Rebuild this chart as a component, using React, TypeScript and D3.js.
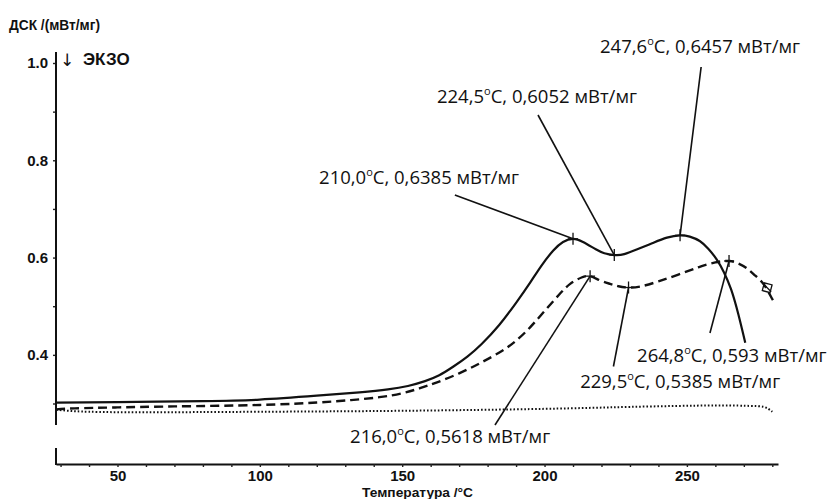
import React, { useEffect, useRef } from "react";
import * as d3 from "d3";

// DSC curves, temperature (°C) / value (mW/mg)
const solidT = [28.5, 50, 80, 100, 120, 135, 145, 152, 158, 163, 168, 173, 178, 184, 190, 195, 199, 203, 206.5, 210, 213.5, 218, 221, 224.5, 228, 233, 238, 243, 247.6, 251, 254.5, 257.5, 260.5, 263, 265.5, 268, 270.5];
const solidV = [0.302, 0.303, 0.305, 0.308, 0.316, 0.323, 0.329, 0.336, 0.346, 0.358, 0.376, 0.397, 0.423, 0.461, 0.507, 0.549, 0.584, 0.614, 0.632, 0.6385, 0.632, 0.617, 0.609, 0.6052, 0.607, 0.618, 0.63, 0.641, 0.6457, 0.643, 0.634, 0.618, 0.596, 0.57, 0.535, 0.485, 0.425];

const dashedT = [28.5, 35, 50, 70, 100, 120, 132, 142, 150, 156, 162, 170, 178, 185, 190, 195, 200, 205, 209, 213, 216, 219.5, 223, 226, 229.5, 234, 240, 247, 254, 260, 264.8, 268, 271, 274, 277, 279.5, 281];
const dashedV = [0.288, 0.29, 0.292, 0.294, 0.297, 0.302, 0.307, 0.313, 0.321, 0.331, 0.343, 0.362, 0.385, 0.408, 0.429, 0.457, 0.49, 0.523, 0.546, 0.559, 0.5618, 0.553, 0.546, 0.541, 0.5385, 0.541, 0.551, 0.565, 0.58, 0.59, 0.593, 0.588, 0.578, 0.563, 0.545, 0.52, 0.505];

const dottedT = [28.5, 33, 40, 60, 100, 150, 200, 230, 260, 272, 277, 280];
const dottedV = [0.287, 0.285, 0.283, 0.282, 0.283, 0.285, 0.289, 0.293, 0.296, 0.295, 0.293, 0.283];

// annotated points
const peakT = [210.0, 224.5, 247.6, 216.0, 229.5, 264.8];
const peakV = [0.6385, 0.6052, 0.6457, 0.5618, 0.5385, 0.593];

// where each label sits and where its leader starts (data units)
const labelT = [120.8, 162.2, 219.5, 131.7, 212.5, 232.5];
const labelV = [0.7513, 0.9178, 1.0206, 0.2189, 0.332, 0.3854];
const leaderT = [168.5, 197.7, 255.0, 182.6, 224.2, 258.1];
const leaderV = [0.7287, 0.8931, 0.9918, 0.2559, 0.3761, 0.445];

const xTicks = d3.range(30, 281, 10);
const xTickLabels = [50, 100, 150, 200, 250];
const yTicks = [0.3, 0.4, 0.5, 0.6, 0.7, 0.8, 0.9, 1.0];
const yTickLabels = [0.4, 0.6, 0.8, 1.0];

const endMarkT = 278.2;
const endMarkV = 0.538;

const W = 831;
const H = 499;

const comma = (s: string) => s.replace(".", ",");

const App = () => {
  const ref = useRef<SVGSVGElement | null>(null);

  useEffect(() => {
    const svg = d3.select(ref.current);
    svg.selectAll("*").remove();

    const x = d3.scaleLinear().domain([28.4, 282]).range([56, 778]);
    const y = d3.scaleLinear().domain([0.3, 1.0]).range([403.5, 63]);

    svg.append("rect").attr("width", W).attr("height", H).attr("fill", "#fff");

    // x axis
    const gx = svg.append("g").attr("transform", "translate(0,464)")
      .call(d3.axisBottom(x).tickValues(xTicks).tickSize(3).tickPadding(3).tickSizeOuter(0)
        .tickFormat((d) => (xTickLabels.includes(+d) ? String(d) : "")));
    gx.select(".domain").attr("stroke", "#111").attr("stroke-width", 2);
    gx.selectAll(".tick line").attr("stroke", "#222").attr("stroke-width", 1.4);
    gx.selectAll("text").attr("font-family", "Liberation Sans, Arial, sans-serif")
      .attr("font-size", 15).attr("font-weight", "bold").attr("fill", "#111");

    // y axis
    const gy = svg.append("g").attr("transform", "translate(56,0)")
      .call(d3.axisLeft(y).tickValues(yTicks).tickSize(3).tickPadding(5).tickSizeOuter(0)
        .tickFormat((d) => (yTickLabels.some((v) => Math.abs(v - +d) < 1e-6) ? d3.format(".1f")(+d) : "")));
    gy.select(".domain").remove();
    gy.selectAll(".tick line").attr("stroke", "#222").attr("stroke-width", 1.4);
    gy.selectAll("text").attr("font-family", "Liberation Sans, Arial, sans-serif")
      .attr("font-size", 15).attr("font-weight", "bold").attr("fill", "#111");

    svg.append("line").attr("x1", 56).attr("x2", 56).attr("y1", 52).attr("y2", 425)
      .attr("stroke", "#111").attr("stroke-width", 2);
    svg.append("line").attr("x1", 56).attr("x2", 56).attr("y1", 448).attr("y2", 465)
      .attr("stroke", "#111").attr("stroke-width", 2);

    // curves
    const line = d3.line<[number, number]>()
      .x((d) => x(d[0])).y((d) => y(d[1]))
      .curve(d3.curveNatural);

    const series = [
      { t: dottedT, v: dottedV, dash: "1.6,2", w: 2 },
      { t: dashedT, v: dashedV, dash: "9,5", w: 2.4 },
      { t: solidT, v: solidV, dash: null, w: 2.2 },
    ];
    series.forEach((s) => {
      const pts = s.t.map((t, i) => [t, s.v[i]] as [number, number]);
      svg.append("path").attr("d", line(pts)).attr("fill", "none")
        .attr("stroke", "#111").attr("stroke-width", s.w)
        .attr("stroke-dasharray", s.dash);
    });

    // end marker on dashed curve
    const ex = x(endMarkT);
    const ey = y(endMarkV);
    svg.append("rect").attr("x", ex - 4).attr("y", ey - 4).attr("width", 8).attr("height", 8)
      .attr("fill", "none").attr("stroke", "#111").attr("stroke-width", 1.3)
      .attr("transform", `rotate(15,${ex},${ey})`);
    svg.append("line").attr("x1", ex - 4).attr("y1", ey - 4).attr("x2", ex + 4).attr("y2", ey + 4)
      .attr("stroke", "#111").attr("stroke-width", 1.3);

    // annotations
    peakT.forEach((t, i) => {
      const px = x(t);
      const py = y(peakV[i]);
      svg.append("line").attr("x1", x(leaderT[i])).attr("y1", y(leaderV[i]))
        .attr("x2", px).attr("y2", py).attr("stroke", "#111").attr("stroke-width", 1.6);
      svg.append("line").attr("x1", px).attr("x2", px).attr("y1", py - 6).attr("y2", py + 6)
        .attr("stroke", "#111").attr("stroke-width", 1.3);
      svg.append("line").attr("x1", px - 5).attr("x2", px + 5).attr("y1", py).attr("y2", py)
        .attr("stroke", "#111").attr("stroke-width", 1.3);

      const txt = svg.append("text").attr("x", x(labelT[i])).attr("y", y(labelV[i]))
        .attr("font-family", "Open Sans, sans-serif").attr("font-size", 18.5).attr("fill", "#111");
      txt.append("tspan").text(comma(t.toFixed(1)));
      txt.append("tspan").attr("font-size", 11).attr("dy", -8).text("o");
      txt.append("tspan").attr("dy", 8).text(`C, ${comma(String(peakV[i]))} мВт/мг`);
    });

    // titles
    svg.append("text").attr("x", 9).attr("y", 30).attr("textLength", 91)
      .attr("lengthAdjust", "spacingAndGlyphs")
      .attr("font-family", "Liberation Sans, Arial, sans-serif").attr("font-size", 14)
      .attr("font-weight", "bold").attr("fill", "#111").text("ДСК /(мВт/мг)");
    svg.append("text").attr("x", 67).attr("y", 66).attr("text-anchor", "middle")
      .attr("font-family", "DejaVu Sans, sans-serif").attr("font-size", 17).attr("fill", "#111").text("↓");
    svg.append("text").attr("x", 83).attr("y", 65)
      .attr("font-family", "Liberation Sans, Arial, sans-serif").attr("font-size", 17)
      .attr("font-weight", "bold").attr("fill", "#111").text("ЭКЗО");
    svg.append("text").attr("x", 362).attr("y", 497).attr("textLength", 111)
      .attr("lengthAdjust", "spacingAndGlyphs")
      .attr("font-family", "Liberation Sans, Arial, sans-serif").attr("font-size", 13)
      .attr("font-weight", "bold").attr("fill", "#111").text("Температура /°C");
  }, []);

  return (
    <svg ref={ref} width={W} height={H}
      style={{ position: "absolute", left: 0, top: 0, display: "block" }} />
  );
};

export default App;
